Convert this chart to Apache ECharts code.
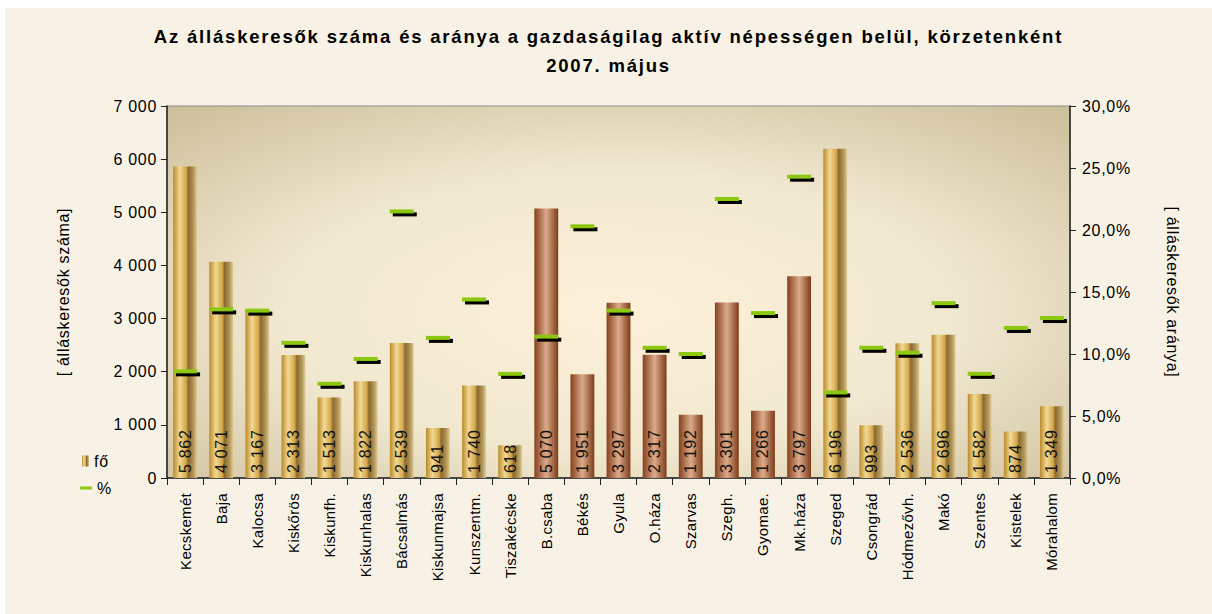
<!DOCTYPE html>
<html>
<head>
<meta charset="utf-8">
<script src="https://cdn.jsdelivr.net/npm/echarts@6/dist/echarts.min.js"></script>
<style>
html,body{margin:0;padding:0;background:#ffffff;}
#chart{position:absolute;left:5px;top:8px;width:1207px;height:606px;}
#chart svg text{letter-spacing:0.7px;}
#chart svg text[style*="18.5px"]{letter-spacing:1.8px;}
#chart svg text[style*="15px"]{letter-spacing:0.3px;}
</style>
</head>
<body>
<div id="chart"></div>
<script>
const categories = ["Kecskemét","Baja","Kalocsa","Kiskőrös","Kiskunfh.","Kiskunhalas","Bácsalmás","Kiskunmajsa","Kunszentm.","Tiszakécske","B.csaba","Békés","Gyula","O.háza","Szarvas","Szegh.","Gyomae.","Mk.háza","Szeged","Csongrád","Hódmezővh.","Makó","Szentes","Kistelek","Mórahalom"];
const countValues = [5862,4071,3167,2313,1513,1822,2539,941,1740,618,5070,1951,3297,2317,1192,3301,1266,3797,6196,993,2536,2696,1582,874,1349];
const pctValues = [8.6,13.6,13.5,10.9,7.6,9.6,21.5,11.3,14.4,8.4,11.4,20.3,13.5,10.5,10.0,22.5,13.3,24.3,6.9,10.5,10.1,14.1,8.4,12.1,12.9];
// county group per bar: 0 = gold, 1 = copper
const groups = [0,0,0,0,0,0,0,0,0,0,1,1,1,1,1,1,1,1,0,0,0,0,0,0,0];

const gold = new echarts.graphic.LinearGradient(0,0,1,0,[
  {offset:0,color:'#b98a2c'},{offset:0.28,color:'#f3d993'},{offset:0.55,color:'#d2a64a'},
  {offset:0.64,color:'#8a6a2e'},{offset:0.85,color:'#b49558'},{offset:1,color:'#e0cc98'}]);
const copper = new echarts.graphic.LinearGradient(0,0,1,0,[
  {offset:0,color:'#86401c'},{offset:0.5,color:'#dcab8a'},{offset:1,color:'#7e3a18'}]);

function fmtThousands(v){return String(v).replace(/\B(?=(\d{3})+(?!\d))/g,' ');}

const chart = echarts.init(document.getElementById('chart'), null, {renderer:'svg'});
const fontFam = 'Liberation Sans, Arial, sans-serif';
chart.setOption({
  backgroundColor:'#f8f2e6',
  animation:false,
  textStyle:{fontFamily:fontFam},
  title:{
    text:'Az álláskeresők száma és aránya a gazdaságilag aktív népességen belül, körzetenként\n2007. május',
    left:'center', top:9,
    textStyle:{fontSize:18.5,fontWeight:'bold',color:'#000',lineHeight:29,fontFamily:fontFam}
  },
  legend:[
    {data:[{name:'fő',icon:'rect'}],orient:'vertical',left:72,top:440,itemWidth:7,itemHeight:11,
     textStyle:{fontSize:16,color:'#000',fontFamily:fontFam}},
    {data:[{name:'%',icon:'rect'}],orient:'vertical',left:70,top:467,itemWidth:12,itemHeight:3,
     textStyle:{fontSize:16,color:'#000',fontFamily:fontFam}}
  ],
  grid:{left:162,right:142,top:98,bottom:136,show:true,borderColor:'#8c8c8c',borderWidth:1,
    backgroundColor:new echarts.graphic.RadialGradient(0.5,0.55,0.75,[
      {offset:0,color:'#fdf0d8'},{offset:0.5,color:'#f1e8d0'},{offset:1,color:'#cbbd98'}])},
  xAxis:{
    type:'category',data:categories,
    axisLine:{lineStyle:{color:'#222',width:1.5}},
    axisTick:{show:true,length:7,lineStyle:{color:'#222'}},
    axisLabel:{rotate:90,fontSize:15,color:'#000',margin:15,interval:0,fontFamily:fontFam}
  },
  yAxis:[
    {type:'value',min:0,max:7000,interval:1000,position:'left',
     name:'[ álláskeresők száma]',nameLocation:'middle',nameGap:96,nameRotate:90,
     nameTextStyle:{fontSize:16,color:'#000',fontFamily:fontFam},
     axisLine:{show:true,lineStyle:{color:'#222',width:1.5}},
     axisTick:{show:true,length:6,lineStyle:{color:'#222'}},
     splitLine:{show:false},
     axisLabel:{fontSize:16,color:'#000',margin:10,fontFamily:fontFam,formatter:v=>fmtThousands(v)}},
    {type:'value',min:0,max:30,interval:5,position:'right',
     name:'[ álláskeresők aránya]',nameLocation:'middle',nameGap:94,nameRotate:-90,
     nameTextStyle:{fontSize:16,color:'#000',fontFamily:fontFam},
     axisLine:{show:true,lineStyle:{color:'#222',width:1.5}},
     axisTick:{show:true,length:6,lineStyle:{color:'#222'}},
     splitLine:{show:false},
     axisLabel:{fontSize:16,color:'#000',margin:12,fontFamily:fontFam,formatter:v=>v.toFixed(1).replace('.',',')+'%'}}
  ],
  series:[
    {name:'fő',type:'bar',yAxisIndex:0,barWidth:'66%',
     itemStyle:{color:gold},
     data:countValues.map((v,i)=>({value:v,itemStyle:{color:groups[i]?copper:gold}})),
     label:{show:true,position:'insideBottom',rotate:90,align:'left',verticalAlign:'middle',
       distance:5,fontSize:16,color:'#111',fontFamily:fontFam,formatter:p=>fmtThousands(p.value)}},
    {name:'%shadow',type:'scatter',yAxisIndex:1,symbol:'rect',symbolSize:[24,4],symbolOffset:[3,3],z:4,
     itemStyle:{color:'#000',opacity:1},silent:true,
     data:pctValues},
    {name:'%',type:'scatter',yAxisIndex:1,symbol:'rect',symbolSize:[24,4],z:5,
     itemStyle:{color:'#8cc810',opacity:1},
     data:pctValues}
  ]
});
</script>
</body>
</html>
